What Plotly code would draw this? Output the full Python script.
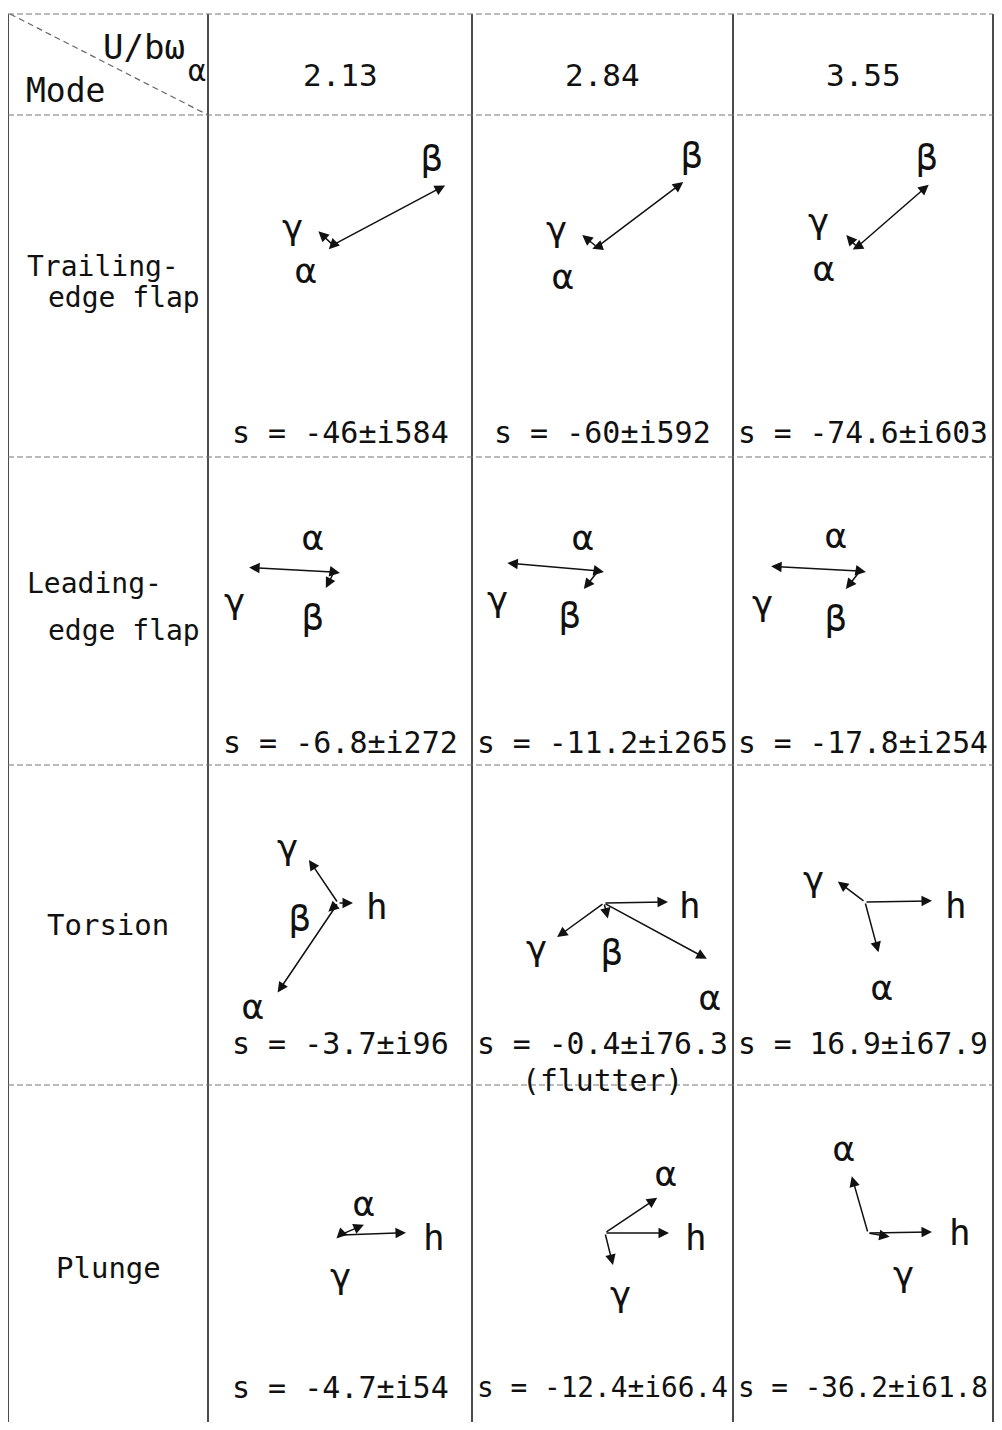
import math
import plotly.graph_objects as go

# --- data -------------------------------------------------------------
speeds = [2.13, 2.84, 3.55]
modes = ["Trailing-edge flap", "Leading-edge flap", "Torsion", "Plunge"]

# eigenvalues s = re ± i im, rows = modes, cols = speeds
s_real = [[-46, -60, -74.6],
          [-6.8, -11.2, -17.8],
          [-3.7, -0.4, 16.9],
          [-4.7, -12.4, -36.2]]
s_imag = [[584, 592, 603],
          [272, 265, 254],
          [96, 76.3, 67.9],
          [54, 66.4, 61.8]]
flutter_note = [[None, None, None], [None, None, None],
                [None, "(flutter)", None], [None, None, None]]

# mode-shape phasors: magnitude and phase angle (deg) per component
te_names = ["α", "β", "γ"]
te_mag = [[6, 127, 20], [5, 108, 19], [5, 95, 16]]
te_ang = [[-135, 28, 137], [-160, 37, 141], [-150, 41, 132]]

le_names = ["α", "β", "γ"]
le_mag = [[6, 18, 85], [6, 23, 91], [6, 23, 89]]
le_ang = [[-10, -117, 177], [-10, -128, 175], [-10, -128, 177]]

to_names = ["α", "β", "γ", "h"]
to_mag = [[108, 13, 52, 15], [117, 16, 58, 64], [52, 0, 34, 67]]
to_ang = [[-124, -138, 124, 0], [-28.5, -76, -144, 1], [-75, 0, 143, 1]]

pl_names = ["α", "γ", "h"]
pl_mag = [[26, 5, 66], [63, 33, 64], [59, 22, 64]]
pl_ang = [[23, -135, 2], [34, -76, 0], [106, -10, 1]]

# --- layout -----------------------------------------------------------
W, H = 1002, 1430
OFF = 8  # the page body margin: the plot sits 8px in from the window corner
col_x = [8, 208, 472, 733, 993]
row_y = [14, 115, 457, 765, 1085, 1430]
FONT = "DejaVu Sans Mono"

# origin of each phasor diagram, offset from cell (centre x, top y)
origin_off = [
    [(-7, 130), (-5.5, 132), (-6, 132)],
    [(-6, 115), (-4.5, 114), (-3, 114)],
    [(-2, 138), (1.5, 138), (2, 137)],
    [(0, 150), (2.5, 148), (5, 148)],
]
# label offsets relative to origin
label_off = [
    [{"α": (-27, 25), "β": (99, -87), "γ": (-40, -19)},
     {"α": (-34, 29), "β": (95, -92), "γ": (-40, -19)},
     {"α": (-33, 21), "β": (70, -90), "γ": (-38, -27)}],
    [{"α": (-21, -35), "β": (-21, 45), "γ": (-99, 28)},
     {"α": (-15, -34), "β": (-28, 44), "γ": (-100, 27)},
     {"α": (-24, -36), "β": (-24, 47), "γ": (-97, 31)}],
    [{"α": (-85, 103), "β": (-38, 15), "γ": (-50, -57), "h": (39, 3)},
     {"α": (106, 94), "β": (8, 49), "γ": (-67, 44), "h": (86, 2)},
     {"α": (17, 85), "γ": (-51, -24), "h": (91, 3)}],
    [{"α": (24, -32), "γ": (1, 40), "h": (94, 2)},
     {"α": (61, -60), "γ": (16, 60), "h": (91, 4)},
     {"α": (-24, -85), "γ": (36, 40), "h": (92, -1)}],
]
s_y = [432, 742, 1043, 1387]

# the page body keeps an 8px margin on every side
PLOT_W = W - 2 * OFF
PLOT_H = H - 2 * OFF

fig = go.Figure()
fig.add_trace(go.Scatter(x=[OFF, OFF + PLOT_W], y=[OFF, OFF + PLOT_H], mode="markers",
                         marker=dict(opacity=0), hoverinfo="skip", showlegend=False))

shapes = []
# vertical rules
for x in col_x:
    shapes.append(dict(type="line", x0=x, x1=x, y0=row_y[0], y1=H,
                       line=dict(color="#111", width=1.5)))
# horizontal rules (faint, broken)
for y in row_y[:-1]:
    shapes.append(dict(type="line", x0=col_x[0], x1=col_x[-1], y0=y, y1=y,
                       line=dict(color="#777", width=1.2, dash="6px,3px")))
# header diagonal
shapes.append(dict(type="line", x0=col_x[0] + 2, y0=row_y[0], x1=col_x[1], y1=row_y[1],
                   line=dict(color="#666", width=1.2, dash="6px,4px")))

ann = []


def txt(x, y, t, size=30, xanchor="center"):
    ann.append(dict(x=x, y=y, text=t, showarrow=False, xref="x", yref="y",
                    xanchor=xanchor, yanchor="middle",
                    font=dict(family=FONT, size=size, color="#111")))


# header
txt(24, 90, "Mode", size=33, xanchor="left")
txt(101, 47, "U/bω", size=34, xanchor="left")
txt(197, 70, "α", size=30)
for j, v in enumerate(speeds):
    txt((col_x[j + 1] + col_x[j + 2]) / 2, 75, f"{v:.2f}", size=31)

# mode names
txt(25, 266, "Trailing-", size=28, xanchor="left")
txt(46, 297, "edge flap", size=28, xanchor="left")
txt(25, 583, "Leading-", size=28, xanchor="left")
txt(46, 630, "edge flap", size=28, xanchor="left")
txt(108, 925, "Torsion", size=29)
txt(108, 1268, "Plunge", size=29)

# eigenvalues
for i in range(4):
    for j in range(3):
        cx = (col_x[j + 1] + col_x[j + 2]) / 2
        t = f"s = {s_real[i][j]:g}±i{s_imag[i][j]:g}"
        size = min(30, (col_x[j + 2] - col_x[j + 1] - 10) / (0.602 * len(t)))
        txt(cx, s_y[i], t, size=size)
        if flutter_note[i][j]:
            txt(cx, s_y[i] + 37, flutter_note[i][j], size=size)

# phasor diagrams
diagrams = [(te_names, te_mag, te_ang), (le_names, le_mag, le_ang),
            (to_names, to_mag, to_ang), (pl_names, pl_mag, pl_ang)]
for i, (names, mags, angs) in enumerate(diagrams):
    for j in range(3):
        cx = (col_x[j + 1] + col_x[j + 2]) / 2
        ox = cx + origin_off[i][j][0]
        oy = row_y[i + 1] + origin_off[i][j][1]
        for k, name in enumerate(names):
            m, a = mags[j][k], angs[j][k]
            if m <= 0:
                continue
            tx = ox + m * math.cos(math.radians(a))
            ty = oy - m * math.sin(math.radians(a))
            ann.append(dict(x=tx, y=ty, ax=ox, ay=oy, xref="x", yref="y",
                            axref="x", ayref="y", text="", showarrow=True,
                            arrowhead=2, arrowsize=1.4, arrowwidth=1.5,
                            arrowcolor="#111", standoff=0, startstandoff=0))
            lx, ly = label_off[i][j][name]
            txt(ox + lx, oy + ly, name, size=36)

fig.update_layout(
    width=PLOT_W, height=PLOT_H, margin=dict(l=0, r=0, t=0, b=0),
    paper_bgcolor="white", plot_bgcolor="white",
    xaxis=dict(range=[OFF, OFF + PLOT_W], visible=False, fixedrange=True),
    yaxis=dict(range=[OFF + PLOT_H, OFF], visible=False, fixedrange=True),
    shapes=shapes, annotations=ann, showlegend=False,
)
fig.write_html("out.html")
